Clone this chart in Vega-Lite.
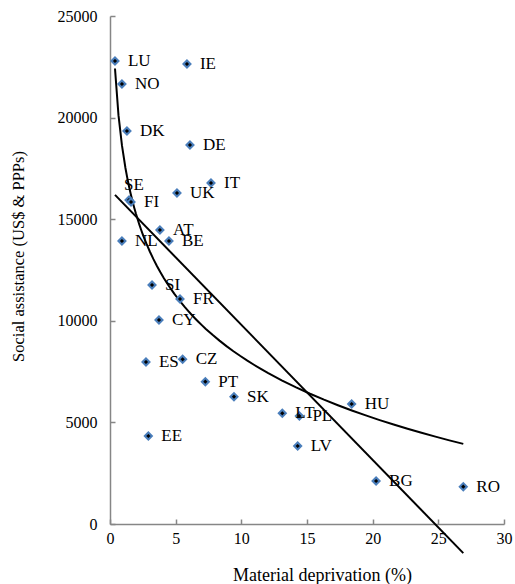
{
  "$schema": "https://vega.github.io/schema/vega-lite/v6.json",
  "width": 394,
  "height": 508,
  "autosize": {"type": "none"},
  "padding": {"left": 110, "top": 16, "right": 11, "bottom": 60},
  "background": "white",
  "config": {"view": {"stroke": null}, "font": "Liberation Serif"},
  "data": {
    "values": [
      {"country": "LU", "deprivation": 0.38, "assistance": 22785},
      {"country": "IE", "deprivation": 5.86, "assistance": 22638},
      {"country": "NO", "deprivation": 0.91, "assistance": 21654},
      {"country": "DK", "deprivation": 1.29, "assistance": 19340},
      {"country": "DE", "deprivation": 6.09, "assistance": 18652},
      {"country": "IT", "deprivation": 7.69, "assistance": 16781},
      {"country": "SE", "deprivation": 1.45, "assistance": 15945},
      {"country": "FI", "deprivation": 1.6, "assistance": 15846},
      {"country": "UK", "deprivation": 5.1, "assistance": 16290},
      {"country": "AT", "deprivation": 3.8, "assistance": 14469},
      {"country": "NL", "deprivation": 0.91, "assistance": 13927},
      {"country": "BE", "deprivation": 4.49, "assistance": 13927},
      {"country": "SI", "deprivation": 3.2, "assistance": 11762},
      {"country": "FR", "deprivation": 5.33, "assistance": 11073},
      {"country": "CY", "deprivation": 3.73, "assistance": 10039},
      {"country": "ES", "deprivation": 2.74, "assistance": 7972},
      {"country": "CZ", "deprivation": 5.53, "assistance": 8105},
      {"country": "PT", "deprivation": 7.26, "assistance": 7003},
      {"country": "SK", "deprivation": 9.44, "assistance": 6266},
      {"country": "LT", "deprivation": 13.12, "assistance": 5448},
      {"country": "PL", "deprivation": 14.42, "assistance": 5315},
      {"country": "EE", "deprivation": 2.92, "assistance": 4331},
      {"country": "LV", "deprivation": 14.29, "assistance": 3839},
      {"country": "HU", "deprivation": 18.4, "assistance": 5906},
      {"country": "BG", "deprivation": 20.26, "assistance": 2116},
      {"country": "RO", "deprivation": 26.9, "assistance": 1836}
    ]
  },
  "encoding": {
    "x": {
      "field": "deprivation",
      "type": "quantitative",
      "scale": {"domain": [0, 30], "nice": false, "zero": false},
      "axis": {
        "title": "Material deprivation (%)",
        "values": [0, 5, 10, 15, 20, 25, 30],
        "grid": false,
        "domainColor": "#868686",
        "domainWidth": 1.5,
        "tickColor": "#868686",
        "tickWidth": 1.5,
        "tickSize": -5,
        "labelPadding": 11,
        "labelFontSize": 16,
        "labelColor": "black",
        "labelFlush": false,
        "titleFontSize": 18,
        "titleFontWeight": "normal",
        "titleColor": "black",
        "titleX": 212,
        "titleY": 56,
        "titleBaseline": "alphabetic"
      }
    },
    "y": {
      "field": "assistance",
      "type": "quantitative",
      "scale": {"domain": [0, 25000], "nice": false},
      "axis": {
        "title": "Social assistance (US$ & PPPs)",
        "values": [0, 5000, 10000, 15000, 20000, 25000],
        "format": "d",
        "grid": false,
        "domainColor": "#868686",
        "domainWidth": 1.5,
        "tickColor": "#868686",
        "tickWidth": 1.5,
        "tickSize": -5,
        "labelPadding": 18,
        "labelFontSize": 16,
        "labelColor": "black",
        "labelFlush": false,
        "titleFontSize": 16.5,
        "titleFontWeight": "normal",
        "titleColor": "black",
        "titleX": -92,
        "titleY": 240,
        "titleBaseline": "middle",
        "titleAngle": -90
      }
    }
  },
  "layer": [
    {
      "transform": [{"regression": "assistance", "on": "deprivation", "method": "linear"}],
      "mark": {"type": "line", "color": "black", "strokeWidth": 2}
    },
    {
      "transform": [{"regression": "assistance", "on": "deprivation", "method": "log"}],
      "mark": {"type": "line", "color": "black", "strokeWidth": 2}
    },
    {
      "mark": {"type": "point", "shape": "diamond", "filled": true, "fill": "black", "stroke": "#4a7ebb", "strokeWidth": 2, "size": 50, "opacity": 1}
    },
    {
      "transform": [{"filter": "datum.country !== 'SE'"}],
      "mark": {"type": "text", "align": "left", "baseline": "middle", "dx": 13, "fontSize": 17, "color": "black"},
      "encoding": {"text": {"field": "country"}}
    },
    {
      "transform": [{"filter": "datum.country === 'SE'"}],
      "mark": {"type": "text", "align": "left", "baseline": "middle", "dx": -5, "dy": -15, "fontSize": 17, "color": "black"},
      "encoding": {"text": {"field": "country"}}
    }
  ]
}
